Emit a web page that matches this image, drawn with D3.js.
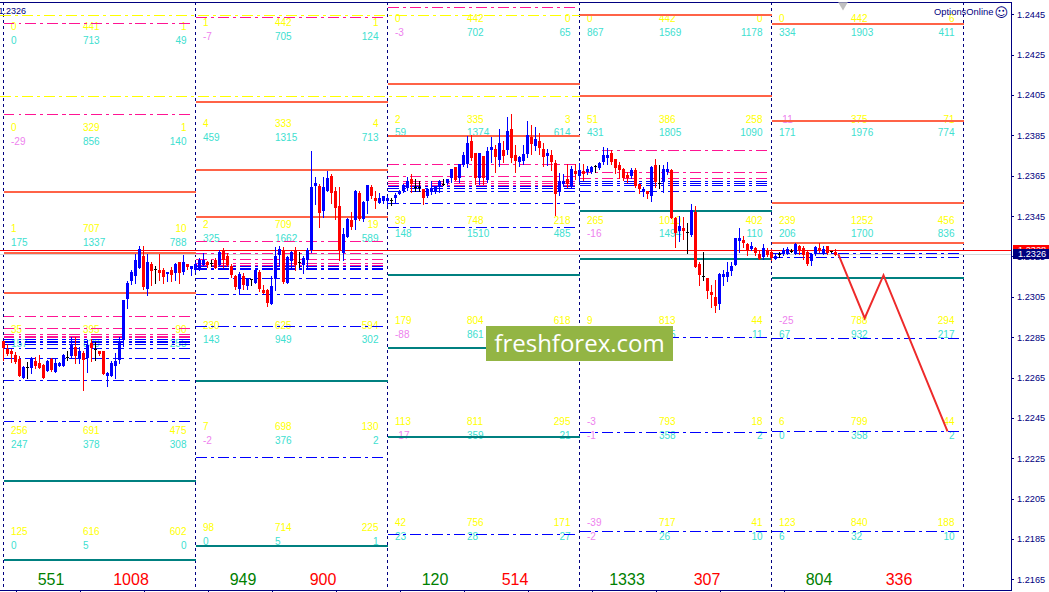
<!DOCTYPE html>
<html><head><meta charset="utf-8">
<script src="https://cdn.jsdelivr.net/npm/d3@7/dist/d3.min.js"></script>
<style>html,body{margin:0;padding:0;background:#fff;overflow:hidden}svg{display:block}text{font-family:"Liberation Sans",Arial,sans-serif}</style>
</head><body><svg id="c" width="1049" height="592"></svg>
<script>
// Prices are in points (12326 = 1.2326). Candle rows: [open, high, low, close]
const candlesDay1=[[12283,12283,12273.5,12279.5],[12279,12281.8,12276,12276.5],[12278,12279.3,12272.7,12276.5],[12276,12277.7,12272.2,12272.7],[12274,12275.5,12265.8,12265.8],[12264.8,12270.6,12264.8,12270.1],[12270.3,12272.7,12264.8,12270.3],[12269.6,12275.3,12267.3,12274.6],[12273.1,12275.3,12269.5,12270.6],[12272.1,12276,12269.6,12269.6],[12271.1,12271.6,12264.8,12264.8],[12268.1,12273.6,12268.1,12273.1],[12274.1,12274.6,12268.1,12268.6],[12267.6,12274.6,12267.6,12272.1],[12270.6,12272.6,12270.6,12272.1],[12270.6,12276.5,12270.6,12276],[12275.2,12278.3,12273.6,12275.2],[12275.8,12285,12275,12281],[12280,12285,12272,12275.5],[12274,12280,12272,12278],[12277,12278,12258.7,12273.6],[12274.6,12283.5,12267.6,12281],[12282,12284,12273,12279.5],[12279.2,12282.7,12273.6,12279.2],[12278,12278,12276,12276.5],[12278,12278,12266.8,12266.8],[12265.6,12267.8,12260.7,12267],[12265.6,12273,12265.6,12272],[12270.6,12277,12264.6,12273.1],[12273.6,12285,12272,12283],[12283.5,12303.6,12280.5,12303.6],[12303.9,12313,12299.3,12312],[12312.8,12318.2,12311.3,12317.2],[12315.2,12326.2,12311.8,12323.2],[12319.2,12330.1,12319.2,12328.6],[12325.2,12330.1,12308.8,12309.8],[12308.8,12326.2,12305.8,12322.2],[12321.2,12322,12310.8,12317.7],[12318.7,12320.2,12311.8,12318.7],[12318.2,12326.2,12313.3,12316.7],[12318.2,12319.2,12311.8,12314.8],[12316.2,12317.2,12312.8,12317.2],[12318.2,12320,12312.8,12315.7],[12316.7,12321.7,12313.3,12321.2],[12322.2,12322.2,12311.8,12316.7],[12317.2,12325.7,12316.5,12322.2],[12321.2,12321.2,12318.7,12319.9],[12318.7,12320.2,12315.7,12320.2]];
const candlesDay2=[[12318.5,12322,12317.5,12321.2],[12319,12324,12318.5,12323.2],[12320.7,12326.5,12320.7,12323.2],[12322,12322.5,12320,12320.7],[12321.8,12323.2,12320.3,12321.8],[12323.2,12324,12319.5,12319.5],[12320.7,12328,12320.7,12327.1],[12328.1,12329,12320,12323.2],[12325.1,12326.5,12320.3,12320.7],[12320.2,12321.5,12314.9,12315.7],[12315.2,12316,12309,12309.9],[12308.8,12317.4,12306.3,12316.2],[12315.2,12316.9,12308.8,12310.8],[12310.3,12314.2,12308.8,12314.2],[12313.6,12314,12310.8,12313.6],[12311.8,12318.2,12311.8,12318.2],[12317.2,12318.2,12307.8,12308.8],[12308.3,12310.8,12306.8,12306.8],[12308.3,12309,12300.5,12301.9],[12301.5,12315.2,12301.5,12310.3],[12313.7,12329.8,12308.3,12325.1],[12325.6,12330.1,12320.7,12328.9],[12328.1,12329.8,12311.9,12312.4],[12311.9,12325,12311.9,12324.8],[12322.8,12327.6,12320,12327.1],[12327.8,12329.8,12318.2,12320.7],[12322.3,12327.1,12319.8,12322.3],[12320.7,12325,12316.9,12324],[12323.2,12329,12319.8,12328.1],[12328.4,12377.2,12327.3,12359.5],[12359.8,12364.2,12351,12361.5],[12360,12361,12339.7,12346.6],[12347.7,12364.2,12344.7,12359.5],[12357.5,12367.4,12357.5,12364.1],[12365.1,12366.1,12351.6,12356.2],[12357.5,12359.2,12343.8,12348.8],[12349.9,12359.5,12323.2,12328.1],[12326.5,12338.9,12323.2,12336],[12334.4,12344,12334.4,12343.8],[12343,12347,12338.4,12339.4],[12343,12358,12338.4,12357.4],[12356.2,12357.2,12343,12343.8],[12343.8,12352.5,12342.6,12351.9],[12352.6,12360.5,12346.6,12360.3],[12359.2,12360.3,12354.2,12354.9],[12354.2,12357.2,12348.8,12352.6],[12351.6,12356.2,12351.6,12354.2],[12352.6,12355.2,12351.6,12355.2]];
const candlesDay3=[[12352.5,12355,12350.5,12354.2],[12352.9,12354.2,12350.4,12352.9],[12353.9,12356.2,12352,12355.4],[12355.8,12358,12355.8,12357.3],[12357.3,12361.1,12357,12360.3],[12358.8,12364.4,12357.8,12362.3],[12363.3,12366,12356.7,12360.8],[12359.2,12363.3,12357.3,12359.2],[12359.2,12362.3,12357.3,12359.2],[12358.3,12358.5,12351.2,12353.9],[12354.9,12358.8,12354.5,12358.3],[12356.8,12362.5,12355.8,12358.8],[12357,12360,12356.5,12359.2],[12359.8,12362.8,12357,12362.3],[12361.1,12363.3,12360.3,12361.1],[12361.6,12363.5,12361,12363.3],[12363.8,12368.5,12362.1,12368.2],[12369.2,12369.5,12362.8,12362.8],[12363.8,12371,12362.1,12370.7],[12370.2,12377,12370,12375.2],[12370.7,12384.6,12369.2,12381.1],[12382.1,12385.1,12373,12373.7],[12376.2,12376.2,12360.8,12363.8],[12363.8,12376.5,12360.8,12376.2],[12374.7,12375,12360.8,12363.8],[12362.8,12379.3,12362,12377.3],[12377.7,12384.3,12371.7,12379.2],[12378.2,12380.1,12366.8,12374.2],[12372.7,12388.1,12369.7,12381.1],[12377.7,12382.1,12371.9,12374.7],[12377.7,12394,12375.7,12387.1],[12388.1,12395.8,12371.7,12373.7],[12375.2,12380.1,12366.8,12372.2],[12371.7,12375,12369.7,12374.2],[12372.2,12380,12370.6,12375.7],[12375.7,12392,12374.2,12385.1],[12384.1,12390,12375.7,12380.6],[12379.6,12389.2,12377.7,12383.1],[12382.1,12386,12375.7,12378.7],[12378.2,12381.1,12369.7,12374.2],[12374.7,12378.2,12370.2,12376.2],[12375.2,12377.7,12367.7,12371.7],[12371.2,12373,12345.4,12355.8],[12356.8,12366.3,12355.4,12362.3],[12360.8,12366,12360,12362.3],[12363.3,12371,12359.2,12360.8],[12359.2,12370,12359.2,12368.2],[12367.2,12371,12363.3,12365.8]];
const candlesDay4=[[12364.8,12371.5,12362.5,12367.8],[12367.3,12371,12362.9,12365.8],[12366.8,12370,12366,12368.3],[12366.8,12369.8,12366.5,12369.3],[12370,12370.3,12366.8,12370],[12368.8,12372,12368.5,12371.3],[12371.8,12379,12371,12375.3],[12373.8,12378.6,12371,12375.3],[12376.3,12377.7,12371,12371.8],[12373.3,12373.5,12366.3,12368.8],[12370.3,12372,12363.9,12367.8],[12368.3,12368.6,12362.9,12363.9],[12365.3,12366.7,12362,12363.9],[12364.8,12369,12363.7,12367.8],[12367.8,12368.6,12359.6,12359.9],[12360.9,12361,12356.2,12358.4],[12356.9,12359.6,12355.1,12358.4],[12357.4,12357.6,12353.8,12355.9],[12354.9,12369.6,12352.4,12369.3],[12370.3,12373.1,12359.6,12361.9],[12361.2,12370.3,12358.7,12361.2],[12361.9,12370.3,12357.1,12368.3],[12366.7,12372,12366,12368.3],[12367.8,12368.3,12344,12344],[12344,12344.5,12329.8,12336.6],[12337.6,12344.8,12332.6,12340],[12339,12344.3,12333.6,12337.6],[12336.9,12341.4,12326.8,12336.9],[12335.6,12351,12335.3,12348],[12347.2,12350,12319.6,12319.6],[12321.2,12322,12310.8,12315.8],[12315.3,12327.2,12313.3,12315.3],[12314.3,12314.3,12304.2,12307.8],[12307.3,12310.8,12300,12305.8],[12304.8,12313.3,12297.6,12300.4],[12301.4,12317,12299.2,12316.3],[12314.8,12318.2,12310.8,12316.3],[12314.8,12322.2,12312.8,12317.2],[12317.7,12322.2,12315.8,12320.2],[12320.7,12334.3,12320.7,12334.1],[12332.6,12338.9,12327.3,12334.1],[12333.1,12335,12329.8,12331.6],[12331.1,12331.6,12325.7,12328.1],[12328.6,12332,12328.1,12330.1],[12329.1,12329.8,12325.7,12326.7],[12326.2,12328,12323.7,12323.7],[12324.7,12331.1,12323.7,12329.1],[12328.1,12329,12325.2,12325.7]];
const candlesDay5=[[12327,12328.5,12323,12324.4],[12323.9,12326,12323.5,12325.4],[12326.1,12327,12324.7,12326.1],[12326.4,12329.2,12325.9,12328],[12326.4,12329.8,12326,12328.9],[12327.7,12328.5,12327,12327.7],[12326.4,12331.8,12326,12331.3],[12330,12330.5,12326.4,12327.7],[12329.4,12330,12323.8,12325.6],[12327.2,12327.6,12320.6,12321.4],[12322.7,12326.5,12321,12326],[12326.4,12330,12325.5,12329.7],[12329,12331.8,12327.4,12327.7],[12326.4,12330,12326,12328.9],[12330,12330.4,12326.4,12326.7],[12327.5,12327.8,12327.2,12327.5],[12327.2,12328.7,12325.6,12325.9]];

const yAxisTicks=[12445,12425,12405,12385,12365,12345,12325,12305,12285,12265,12245,12225,12205,12185,12165];
const bidPrice=12326, askPrice=12328;
const predictionBars=[208.7,215.3,220,236];
const predictionPrices=[12326.1,12294.4,12315.7,12238.3];

const yellowLevels=[12444.3,12404.2];
const orangeLevels=[[12357,12326.5,12306.9],[12401.6,12367.7,12344.5],[12410.5,12384.6],[12444.7,12404.4],[12440.3,12392.2,12351.5,12331.7]];
const magentaLevels=[[12440.4,12395.3,12295,12289.3,12286.3,12285.5,12284.6],[12443.4,12332.4,12326.5,12323.5,12321.5,12320.7],[12448.4,12370.6,12364.6,12362,12361.2,12360.3],[12377.5,12366.6,12363.6],[12327.8]];
const blueLevels=[[12283.8,12283,12282.2,12281.2,12279.4,12274.4,12263.5,12243.2],[12319.8,12319.2,12318.5,12314.1,12306.1,12290.3,12225.4],[12359.5,12358.7,12357.2,12351.2,12339.4,12187.2],[12362,12361.2,12360.2,12357.2,12284.8,12237.8,12188.7],[12326.3,12324.5,12284.3,12238.2,12188.7]];
const tealLevels=[[12213.6,12174.5],[12263.2,12181.4],[12315.9,12279.5,12235.4],[12347.6,12323.8],[12314.4]];

const yellowTable=[
 [[0,441,1],[0,329,1],[1,707,10],[35,395,90],[256,691,475],[125,616,602]],
 [[1,442,1],[4,333,4],[2,709,19],[230,625,594],[7,698,130],[98,714,225]],
 [[0,442,0],[2,335,3],[39,748,218],[179,804,618],[113,811,295],[42,756,171]],
 [[0,442,0],[51,386,258],[265,1010,402],[9,813,44],[-3,793,18],[-39,717,41]],
 [[0,442,6],[-11,375,71],[239,1252,456],[-25,788,294],[6,799,44],[123,840,188]]];
const cyanTable=[
 [[0,713,49],[-29,856,140],[175,1337,788],[157,830,255],[247,378,308],[0,5,0]],
 [[-7,705,124],[459,1315,713],[325,1662,589],[143,949,302],[-2,376,2],[0,5,1]],
 [[-3,702,65],[59,1374,614],[148,1510,485],[-88,861,null],[-17,359,21],[23,28,27]],
 [[867,1569,1178],[431,1805,1090],[-16,1494,110],[null,935,11],[-1,358,2],[-2,26,10]],
 [[334,1903,411],[171,1976,774],[206,1700,836],[67,932,217],[0,358,2],[6,32,10]]];
const buyCounts=[551,949,120,1333,804];
const sellCounts=[1008,900,514,307,336];

// layout
const BARS=48;
const DASH="11,4,3,4";
const candles=[candlesDay1,candlesDay2,candlesDay3,candlesDay4,candlesDay5].flat();
const svg=d3.select("#c");
const x=d3.scaleLinear().domain([0,BARS]).range([3.5,195.5]);
const y=d3.scaleLinear().domain([12445,12165]).range([14.3,579.3]);
const sy=v=>Math.floor(y(v))+0.5;
const days=d3.range(5);
const dayX=d=>x(d*BARS);

// separators
svg.append("g").selectAll("line").data(d3.range(6)).join("line")
 .attr("x1",d=>x(d*BARS)).attr("x2",d=>x(d*BARS)).attr("y1",2).attr("y2",590)
 .attr("stroke","#000080").attr("stroke-dasharray","3,3").attr("shape-rendering","crispEdges");

// table texts
const rowTop=[26.7,22.3,18,18,18], rowStep=100.95, cyanGap=13.9;
const colX=[7.5,79.5,183];
function drawTable(table,gap,col){
 days.forEach(d=>{table[d].forEach((row,r)=>{row.forEach((v,c)=>{
  if(v===null)return;
  svg.append("text").attr("x",dayX(d)+colX[c]).attr("y",rowTop[d]+r*rowStep+gap)
   .attr("dy","0.36em").attr("font-size",10)
   .attr("text-anchor",c===2?"end":"start")
   .attr("fill",v<0?"#ee82ee":col).text(v);
 });});});
}
drawTable(yellowTable,0,"#ffff00");
drawTable(cyanTable,cyanGap,"#40e0d0");

// count labels
days.forEach(d=>{
 svg.append("text").attr("x",dayX(d)+47.5).attr("y",585).attr("text-anchor","middle").attr("font-size",16).attr("fill","#008000").text(buyCounts[d]);
 svg.append("text").attr("x",dayX(d)+127.5).attr("y",585).attr("text-anchor","middle").attr("font-size",16).attr("fill","#ff0000").text(sellCounts[d]);
});

// levels
function drawLevels(levels,col,w,dash){
 const g=svg.append("g").attr("stroke",col).attr("stroke-width",w).attr("shape-rendering","crispEdges");
 levels.forEach((arr,d)=>arr.forEach(v=>{
  const py=w===2?Math.round(y(v)):sy(v);
  const l=g.append("line").attr("x1",dayX(d)).attr("x2",dayX(d+1)).attr("y1",py).attr("y2",py);
  if(dash)l.attr("stroke-dasharray",dash).attr("x2",dayX(d+1)-3);
 }));
}
drawLevels(magentaLevels,"#ff1493",1,DASH);
drawLevels(blueLevels,"#0000ff",1,DASH);
// yellow levels span the first four days
svg.append("g").selectAll("line").data(yellowLevels).join("line")
 .attr("x1",0).attr("x2",dayX(4)).attr("y1",sy).attr("y2",sy)
 .attr("stroke","#ffff00").attr("stroke-dasharray",DASH).attr("shape-rendering","crispEdges");
drawLevels(orangeLevels,"#ff6347",2,null);
drawLevels(tealLevels,"#008080",2,null);

// bid / ask
svg.append("line").attr("x1",0).attr("x2",1011).attr("y1",sy(bidPrice)).attr("y2",sy(bidPrice)).attr("stroke","#d3d8d8").attr("shape-rendering","crispEdges");
svg.append("line").attr("x1",0).attr("x2",1011).attr("y1",sy(askPrice)).attr("y2",sy(askPrice)).attr("stroke","#ff0000").attr("shape-rendering","crispEdges");

// candles
const gc=svg.append("g").attr("shape-rendering","crispEdges");
candles.forEach((c,i)=>{
 const [o,h,l,cl]=c, cx=x(i);
 const col=cl>o?"#0000ff":cl<o?"#ff0000":"#000000";
 gc.append("line").attr("x1",cx).attr("x2",cx).attr("y1",Math.round(y(h))).attr("y2",Math.round(y(l))+1).attr("stroke",col);
 const top=Math.round(y(Math.max(o,cl))), bot=Math.round(y(Math.min(o,cl)));
 gc.append("rect").attr("x",cx-1.5).attr("width",3).attr("y",top).attr("height",Math.max(1,bot-top)).attr("fill",col);
});

// prediction
svg.append("path").attr("fill","none").attr("stroke","#ee2a2a").attr("stroke-width",2)
 .attr("d",d3.line().x(d=>x(d[0])).y(d=>y(d[1]))(d3.zip(predictionBars,predictionPrices)));

// badge
svg.append("rect").attr("x",486).attr("y",326).attr("width",187).attr("height",35).attr("fill","#93b544");
svg.append("text").attr("x",579.5).attr("y",343.5).attr("dy","0.36em").attr("text-anchor","middle")
 .attr("fill","#fff").style("font-family","'Open Sans'").attr("font-size",24).text("freshforex.com");

// frame & axes
const yAxis=svg.append("g").attr("transform","translate(1011,0)")
 .call(d3.axisRight(y).tickValues(yAxisTicks).tickSize(3).tickPadding(3).tickFormat(v=>(v/10000).toFixed(4)));
yAxis.select(".domain").remove();
yAxis.selectAll("line").attr("stroke","#000080").attr("shape-rendering","crispEdges");
yAxis.selectAll("text").attr("fill","#000080").attr("font-size",9.2).style("font-family","'Liberation Sans'");
const xAxis=svg.append("g").attr("transform","translate(0,590)")
 .call(d3.axisBottom(x).tickValues(d3.range(3,196,16)).tickSize(2).tickFormat(""));
xAxis.select(".domain").remove();
xAxis.selectAll("line").attr("stroke","#000080").attr("shape-rendering","crispEdges");
svg.append("path").attr("d","M0,2.5H1011.5V590.5H0").attr("fill","none").attr("stroke","#000080").attr("shape-rendering","crispEdges");

// price tags
function tag(v,col){
 const cy=Math.round(y(v));
 svg.append("rect").attr("x",1013).attr("y",cy-5).attr("width",36).attr("height",10).attr("fill",col);
 svg.append("text").attr("x",1018).attr("y",cy).attr("dy","0.36em").attr("fill","#fff").attr("font-size",9.2).text((v/10000).toFixed(4));
}
tag(askPrice,"#ff0000");
tag(bidPrice,"#000080");

// header texts
svg.append("text").attr("x",-1.5).attr("y",10.5).attr("dy","0.36em").attr("font-size",9).attr("fill","#000080").text("1.2326");
svg.append("text").attr("x",934).attr("y",11.7).attr("dy","0.36em").attr("font-size",9.4).attr("fill","#000080").text("OptionsOnline");
svg.append("text").attr("x",994.5).attr("y",12).attr("dy","0.36em").attr("font-size",13).attr("fill","#000080").style("font-family","'DejaVu Sans'").text("\u263A");
// shift marker
svg.append("path").attr("d",d3.symbol(d3.symbolTriangle,40)()).attr("transform",`translate(843,5) rotate(180)`).attr("fill","#c0c0c0");
</script></body></html>
